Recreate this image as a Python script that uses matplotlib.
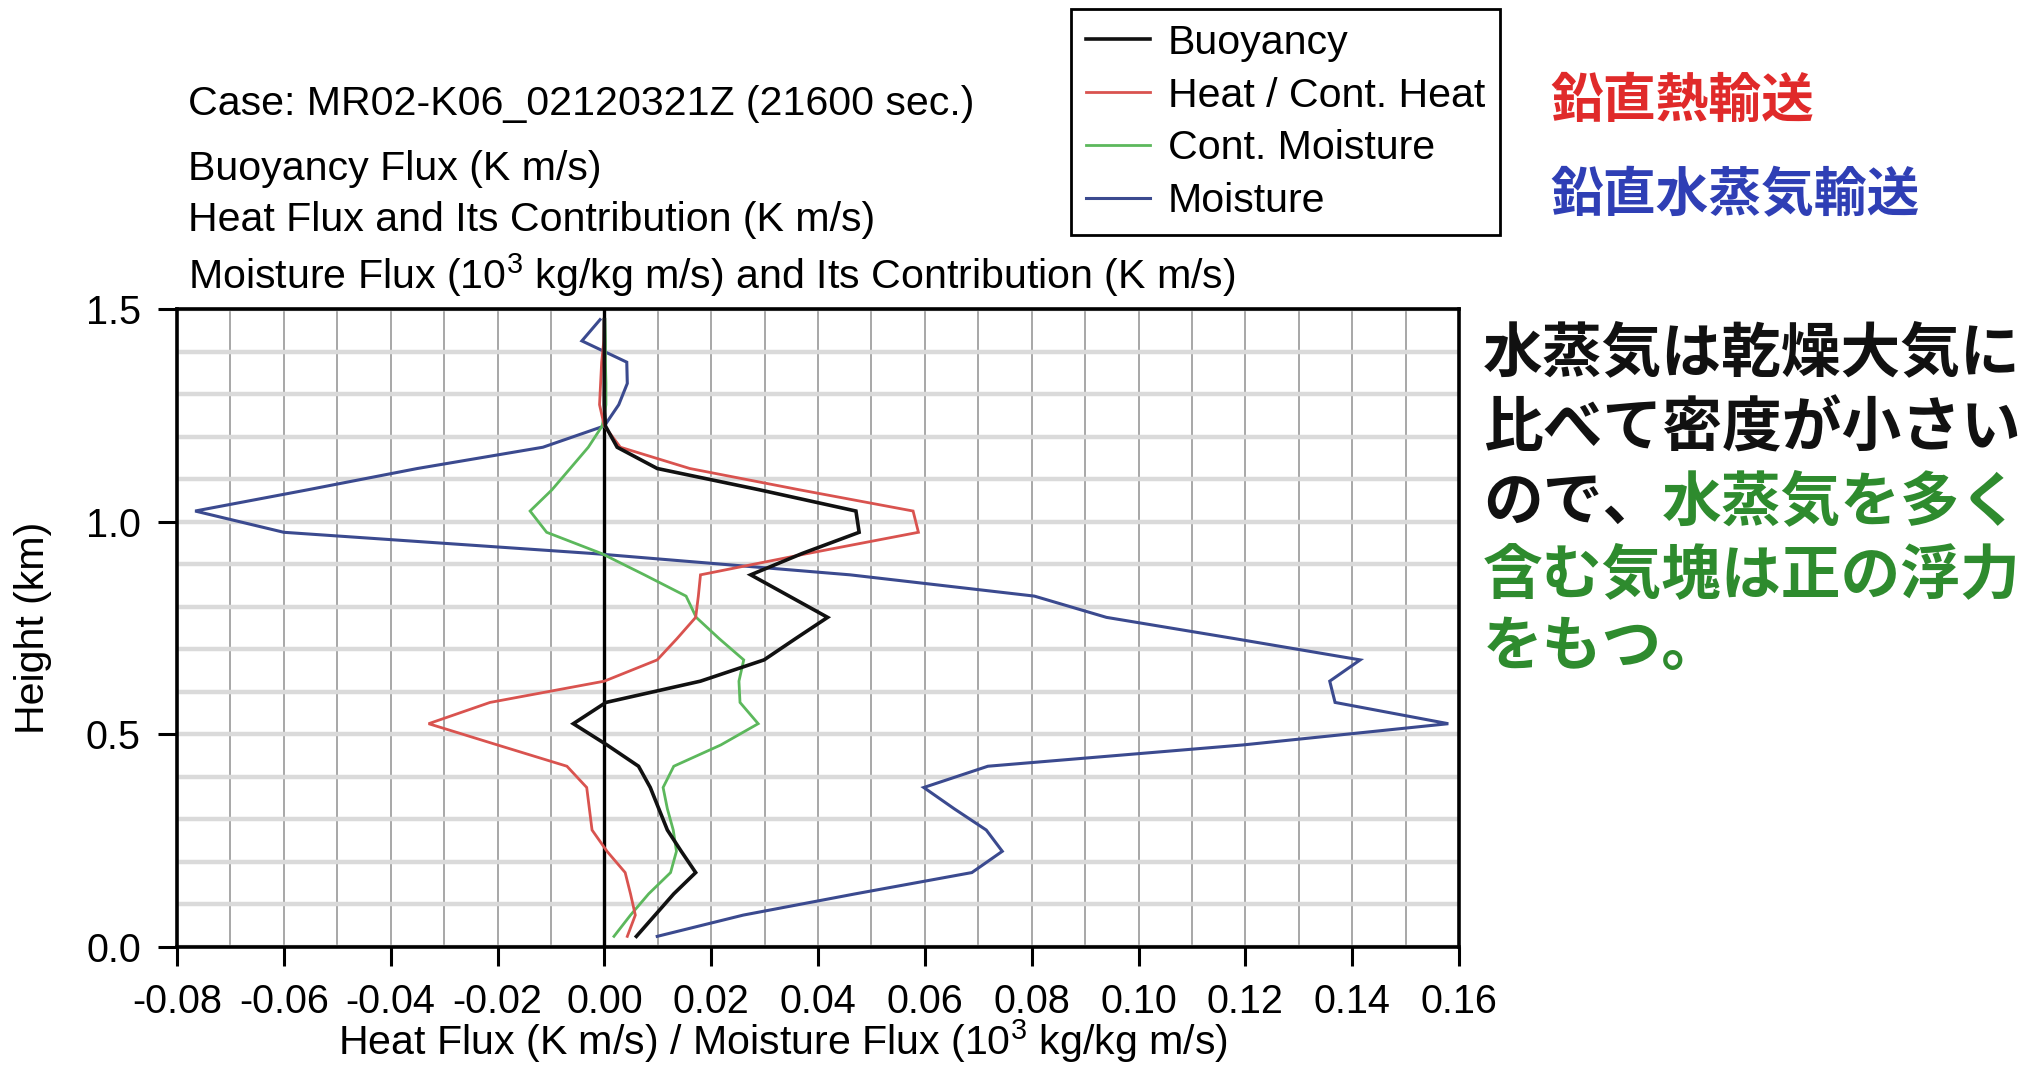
import matplotlib
matplotlib.use("Agg")
import matplotlib.pyplot as plt
from matplotlib.ticker import MultipleLocator

plt.rcParams['font.family'] = ['Liberation Sans', 'Noto Sans CJK JP', 'DejaVu Sans']
plt.rcParams['mathtext.default'] = 'regular'
plt.rcParams['axes.unicode_minus'] = False

# model levels (km)
heights = [0.025, 0.075, 0.125, 0.175, 0.225, 0.275, 0.325, 0.375, 0.425, 0.475,
           0.525, 0.575, 0.625, 0.675, 0.725, 0.775, 0.825, 0.875, 0.925, 0.975,
           1.025, 1.075, 1.125, 1.175, 1.225, 1.275, 1.325, 1.375, 1.425, 1.475]

buoyancy = [0.0060, 0.0095, 0.0130, 0.0171, 0.0144, 0.0118, 0.0102, 0.0086, 0.0064, 0.0005,
            -0.0058, 0.0003, 0.0180, 0.0299, 0.0358, 0.0418, 0.0346, 0.0274, 0.0370, 0.0477,
            0.0471, 0.0290, 0.0099, 0.0024, 0.0002, 0.0000, 0.0000, 0.0000, 0.0000, 0.0000]

heat = [0.0043, 0.0058, 0.0049, 0.0039, 0.0005, -0.0023, -0.0028, -0.0033, -0.0070, -0.0200,
        -0.0329, -0.0214, 0.0000, 0.0099, 0.0136, 0.0171, 0.0176, 0.0180, 0.0380, 0.0588,
        0.0578, 0.0365, 0.0160, 0.0030, 0.0000, -0.0009, -0.0007, -0.0005, -0.0001, 0.0000]

cont_moisture = [0.0018, 0.0049, 0.0083, 0.0124, 0.0135, 0.0129, 0.0118, 0.0110, 0.0130, 0.0218,
                 0.0288, 0.0254, 0.0252, 0.0261, 0.0215, 0.0172, 0.0153, 0.0075, -0.0005, -0.0108,
                 -0.0139, -0.0098, -0.0064, -0.0030, -0.0004, 0.0003, 0.0003, 0.0002, 0.0002, 0.0001]

moisture = [0.0099, 0.0260, 0.0470, 0.0688, 0.0745, 0.0715, 0.0655, 0.0598, 0.0718, 0.1195,
            0.1580, 0.1368, 0.1358, 0.1415, 0.1180, 0.0940, 0.0805, 0.0460, -0.0020, -0.0600,
            -0.0766, -0.0555, -0.0350, -0.0115, 0.0000, 0.0027, 0.0043, 0.0042, -0.0042, -0.0008]

xticks = [-0.08, -0.06, -0.04, -0.02, 0.00, 0.02, 0.04, 0.06, 0.08, 0.10, 0.12, 0.14, 0.16]
xticklabels = ['-0.08', '-0.06', '-0.04', '-0.02', '0.00', '0.02', '0.04', '0.06',
               '0.08', '0.10', '0.12', '0.14', '0.16']
yticks = [0.0, 0.5, 1.0, 1.5]
yticklabels = ['0.0', '0.5', '1.0', '1.5']

series_labels = ['Buoyancy', 'Heat / Cont. Heat', 'Cont. Moisture', 'Moisture']
series_colors = ['#111111', '#d9534f', '#5cb85c', '#3b4a8f']

title_lines = [
    'Case: MR02-K06_02120321Z (21600 sec.)',
    'Buoyancy Flux (K m/s)',
    'Heat Flux and Its Contribution (K m/s)',
    'Moisture Flux (10$^3$ kg/kg m/s) and Its Contribution (K m/s)',
]

W, H = 2034, 1066
FS = 28.5      # tick labels
FS_T = 29.6    # titles, legend, axis labels
fig = plt.figure(figsize=(W / 100, H / 100), dpi=100)
fig.patch.set_facecolor('white')


def fx(px):
    return px / W


def fy(py):
    return 1 - py / H


ax = fig.add_axes([fx(177), fy(947), fx(1459 - 177), (947 - 309) / H])
ax.set_xlim(-0.08, 0.16)
ax.set_ylim(0.0, 1.5)

ax.xaxis.set_minor_locator(MultipleLocator(0.01))
ax.yaxis.set_minor_locator(MultipleLocator(0.1))
ax.xaxis.grid(True, which='both', color='#8f8f8f', lw=1.1, zorder=0)
ax.yaxis.grid(True, which='both', color='#dadada', lw=3.2, zorder=0)
ax.set_axisbelow(True)

ax.set_xticks(xticks)
ax.set_xticklabels(xticklabels)
ax.set_yticks(yticks)
ax.set_yticklabels(yticklabels)
ax.tick_params(which='major', direction='out', length=14, width=2.2, labelsize=FS, pad=12)
ax.tick_params(which='minor', length=0)
for s in ax.spines.values():
    s.set_linewidth(2.6)

ax.axvline(0.0, color='black', lw=2.4, zorder=2)

data = [buoyancy, heat, cont_moisture, moisture]
widths = [2.6, 2.0, 2.0, 2.2]
order = [3, 2, 1, 0]
handles = {}
for i in order:
    (ln,) = ax.plot(data[i], heights, color=series_colors[i], lw=widths[i],
                    zorder=3 + (3 - i), solid_joinstyle='miter')
    handles[i] = ln

ax.set_ylabel('Height (km)', fontsize=FS_T)
ax.yaxis.set_label_coords((52 - 177) / (1459 - 177), 0.5)

fig.text(fx(783), fy(1041), 'Heat Flux (K m/s) / Moisture Flux (10$^3$ kg/kg m/s)',
         fontsize=FS_T, ha='center', va='center')

for y, t in zip([104, 169, 220, 275], title_lines):
    fig.text(fx(188), fy(y), t, fontsize=FS_T, ha='left', va='center')

leg = fig.legend([handles[i] for i in range(4)], series_labels,
                 loc='upper left', bbox_to_anchor=(fx(1071), fy(9)),
                 fontsize=FS_T, frameon=True, fancybox=False, framealpha=1,
                 edgecolor='black', handlelength=1.55, handletextpad=0.45,
                 labelspacing=0.36, borderpad=0.36, borderaxespad=0)
leg.get_frame().set_linewidth(2.0)

# Japanese annotations
jp_font = ['Noto Sans CJK JP']
fig.text(fx(1550), fy(101), '鉛直熱輸送', fontsize=38, color='#e02a2a',
         ha='left', va='center', fontweight='bold', family=jp_font)
fig.text(fx(1550), fy(196), '鉛直水蒸気輸送', fontsize=38, color='#2f3fb5',
         ha='left', va='center', fontweight='bold', family=jp_font)

black_jp = '#111111'
green_jp = '#2e8b2e'
jp_fs = 43
jp_x = fx(1483)
fig.text(jp_x, fy(354), '水蒸気は乾燥大気に', fontsize=jp_fs, color=black_jp,
         ha='left', va='center', fontweight='bold', family=jp_font)
fig.text(jp_x, fy(430), '比べて密度が小さい', fontsize=jp_fs, color=black_jp,
         ha='left', va='center', fontweight='bold', family=jp_font)
t1 = fig.text(jp_x, fy(503), 'ので、', fontsize=jp_fs, color=black_jp,
              ha='left', va='center', fontweight='bold', family=jp_font)
fig.canvas.draw()
bb = t1.get_window_extent()
fig.text(bb.x1 / W, fy(503), '水蒸気を多く', fontsize=jp_fs, color=green_jp,
         ha='left', va='center', fontweight='bold', family=jp_font)
fig.text(jp_x, fy(576), '含む気塊は正の浮力', fontsize=jp_fs, color=green_jp,
         ha='left', va='center', fontweight='bold', family=jp_font)
fig.text(jp_x, fy(648), 'をもつ。', fontsize=jp_fs, color=green_jp,
         ha='left', va='center', fontweight='bold', family=jp_font)

fig.savefig('out.png', dpi=100, facecolor='white')
